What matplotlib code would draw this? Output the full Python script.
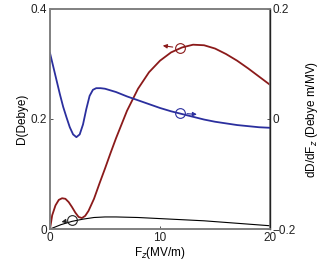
import matplotlib.pyplot as plt
import numpy as np

plt.rcParams['font.family'] = ['Liberation Sans', 'DejaVu Sans']
plt.rcParams['font.size'] = 8.5

# D (left axis), red curve
fz_red = [0, 0.2, 0.5, 0.8, 1.1, 1.4, 1.7, 2.0, 2.3, 2.6, 2.9, 3.2, 3.5, 4, 4.5, 5, 5.5, 6, 7, 8, 9, 10,
          11, 12, 13, 14, 15, 16, 17, 18, 19, 20]
d_red = [0, 0.025, 0.043, 0.053, 0.056, 0.055, 0.049, 0.04, 0.03, 0.022, 0.02, 0.024, 0.033, 0.055,
         0.083, 0.11, 0.138, 0.165, 0.215, 0.255, 0.285, 0.306, 0.321, 0.33, 0.335, 0.334, 0.328,
         0.318, 0.306, 0.292, 0.277, 0.262]

# D (left axis), black curve
fz_black = [0, 1, 2, 3, 4, 5, 6, 8, 10, 12, 14, 16, 18, 20]
d_black = [0, 0.008, 0.014, 0.018, 0.021, 0.022, 0.022, 0.021, 0.019, 0.017, 0.015, 0.012, 0.009, 0.006]

# dD/dFz (right axis), blue curve
fz_blue = [0, 0.3, 0.6, 0.9, 1.2, 1.5, 1.8, 2.1, 2.4, 2.7, 3.0, 3.3, 3.6, 3.9, 4.2, 4.6, 5, 6, 7, 8, 9,
           10, 11, 12, 13, 14, 15, 16, 17, 18, 19, 20]
dd_blue = [0.12, 0.095, 0.07, 0.045, 0.022, 0.003, -0.015, -0.028, -0.033, -0.028, -0.01, 0.018,
           0.042, 0.053, 0.056, 0.056, 0.055, 0.049, 0.041, 0.034, 0.027, 0.02, 0.014, 0.009, 0.004,
           -0.001, -0.005, -0.008, -0.011, -0.013, -0.015, -0.016]

red = '#8B1A1A'
blue = '#2B2F9E'
gray = '#808080'

fig = plt.figure(figsize=(3.31, 2.79), dpi=100)
ax = fig.add_axes([0.151, 0.179, 0.665, 0.789])
ax2 = ax.twinx()

ax.plot(fz_red, d_red, color=red, lw=1.3)
ax.plot(fz_black, d_black, color='black', lw=0.8)
ax2.plot(fz_blue, dd_blue, color=blue, lw=1.3)

ax.set_xlim(0, 20)
ax.set_ylim(0, 0.4)
ax2.set_ylim(-0.2, 0.2)
ax.set_xticks([0, 10, 20])
ax.set_yticks([0, 0.2, 0.4])
ax.set_yticklabels(['0', '0.2', '0.4'])
ax2.set_yticks([-0.2, 0, 0.2])
ax2.set_yticklabels(['\u22120.2', '0', '0.2'])

for a in (ax, ax2):
    a.tick_params(direction='in', length=2, width=0.6, colors='#333333', labelcolor='#222222', pad=2)
    for s in a.spines.values():
        s.set_color(gray)
        s.set_linewidth(1.2)
ax2.spines['right'].set_color('#222222')
ax2.spines['right'].set_linewidth(1.0)

ax.set_xlabel('F$_z$(MV/m)', labelpad=1)
ax.set_ylabel('D(Debye)', labelpad=2)
ax2.set_ylabel('dD/dF$_z$ (Debye m/MV)', labelpad=6)

# circles with arrows pointing to the axis each curve belongs to
ax.plot(11.8, 0.329, 'o', mfc='none', mec=red, ms=7, mew=0.8)
ax.annotate('', xy=(10.0, 0.334), xytext=(11.4, 0.330),
            arrowprops=dict(arrowstyle='-|>', color=red, lw=0.8, mutation_scale=6))
ax2.plot(11.8, 0.011, 'o', mfc='none', mec=blue, ms=7, mew=0.8)
ax2.annotate('', xy=(13.6, 0.008), xytext=(12.2, 0.010),
             arrowprops=dict(arrowstyle='-|>', color=blue, lw=0.8, mutation_scale=6))
ax.plot(2.0, 0.016, 'o', mfc='none', mec='#222222', ms=7, mew=0.8)
ax.annotate('', xy=(0.8, 0.012), xytext=(1.6, 0.015),
            arrowprops=dict(arrowstyle='-|>', color='#222222', lw=0.8, mutation_scale=6))

fig.savefig('out.png', dpi=100)
